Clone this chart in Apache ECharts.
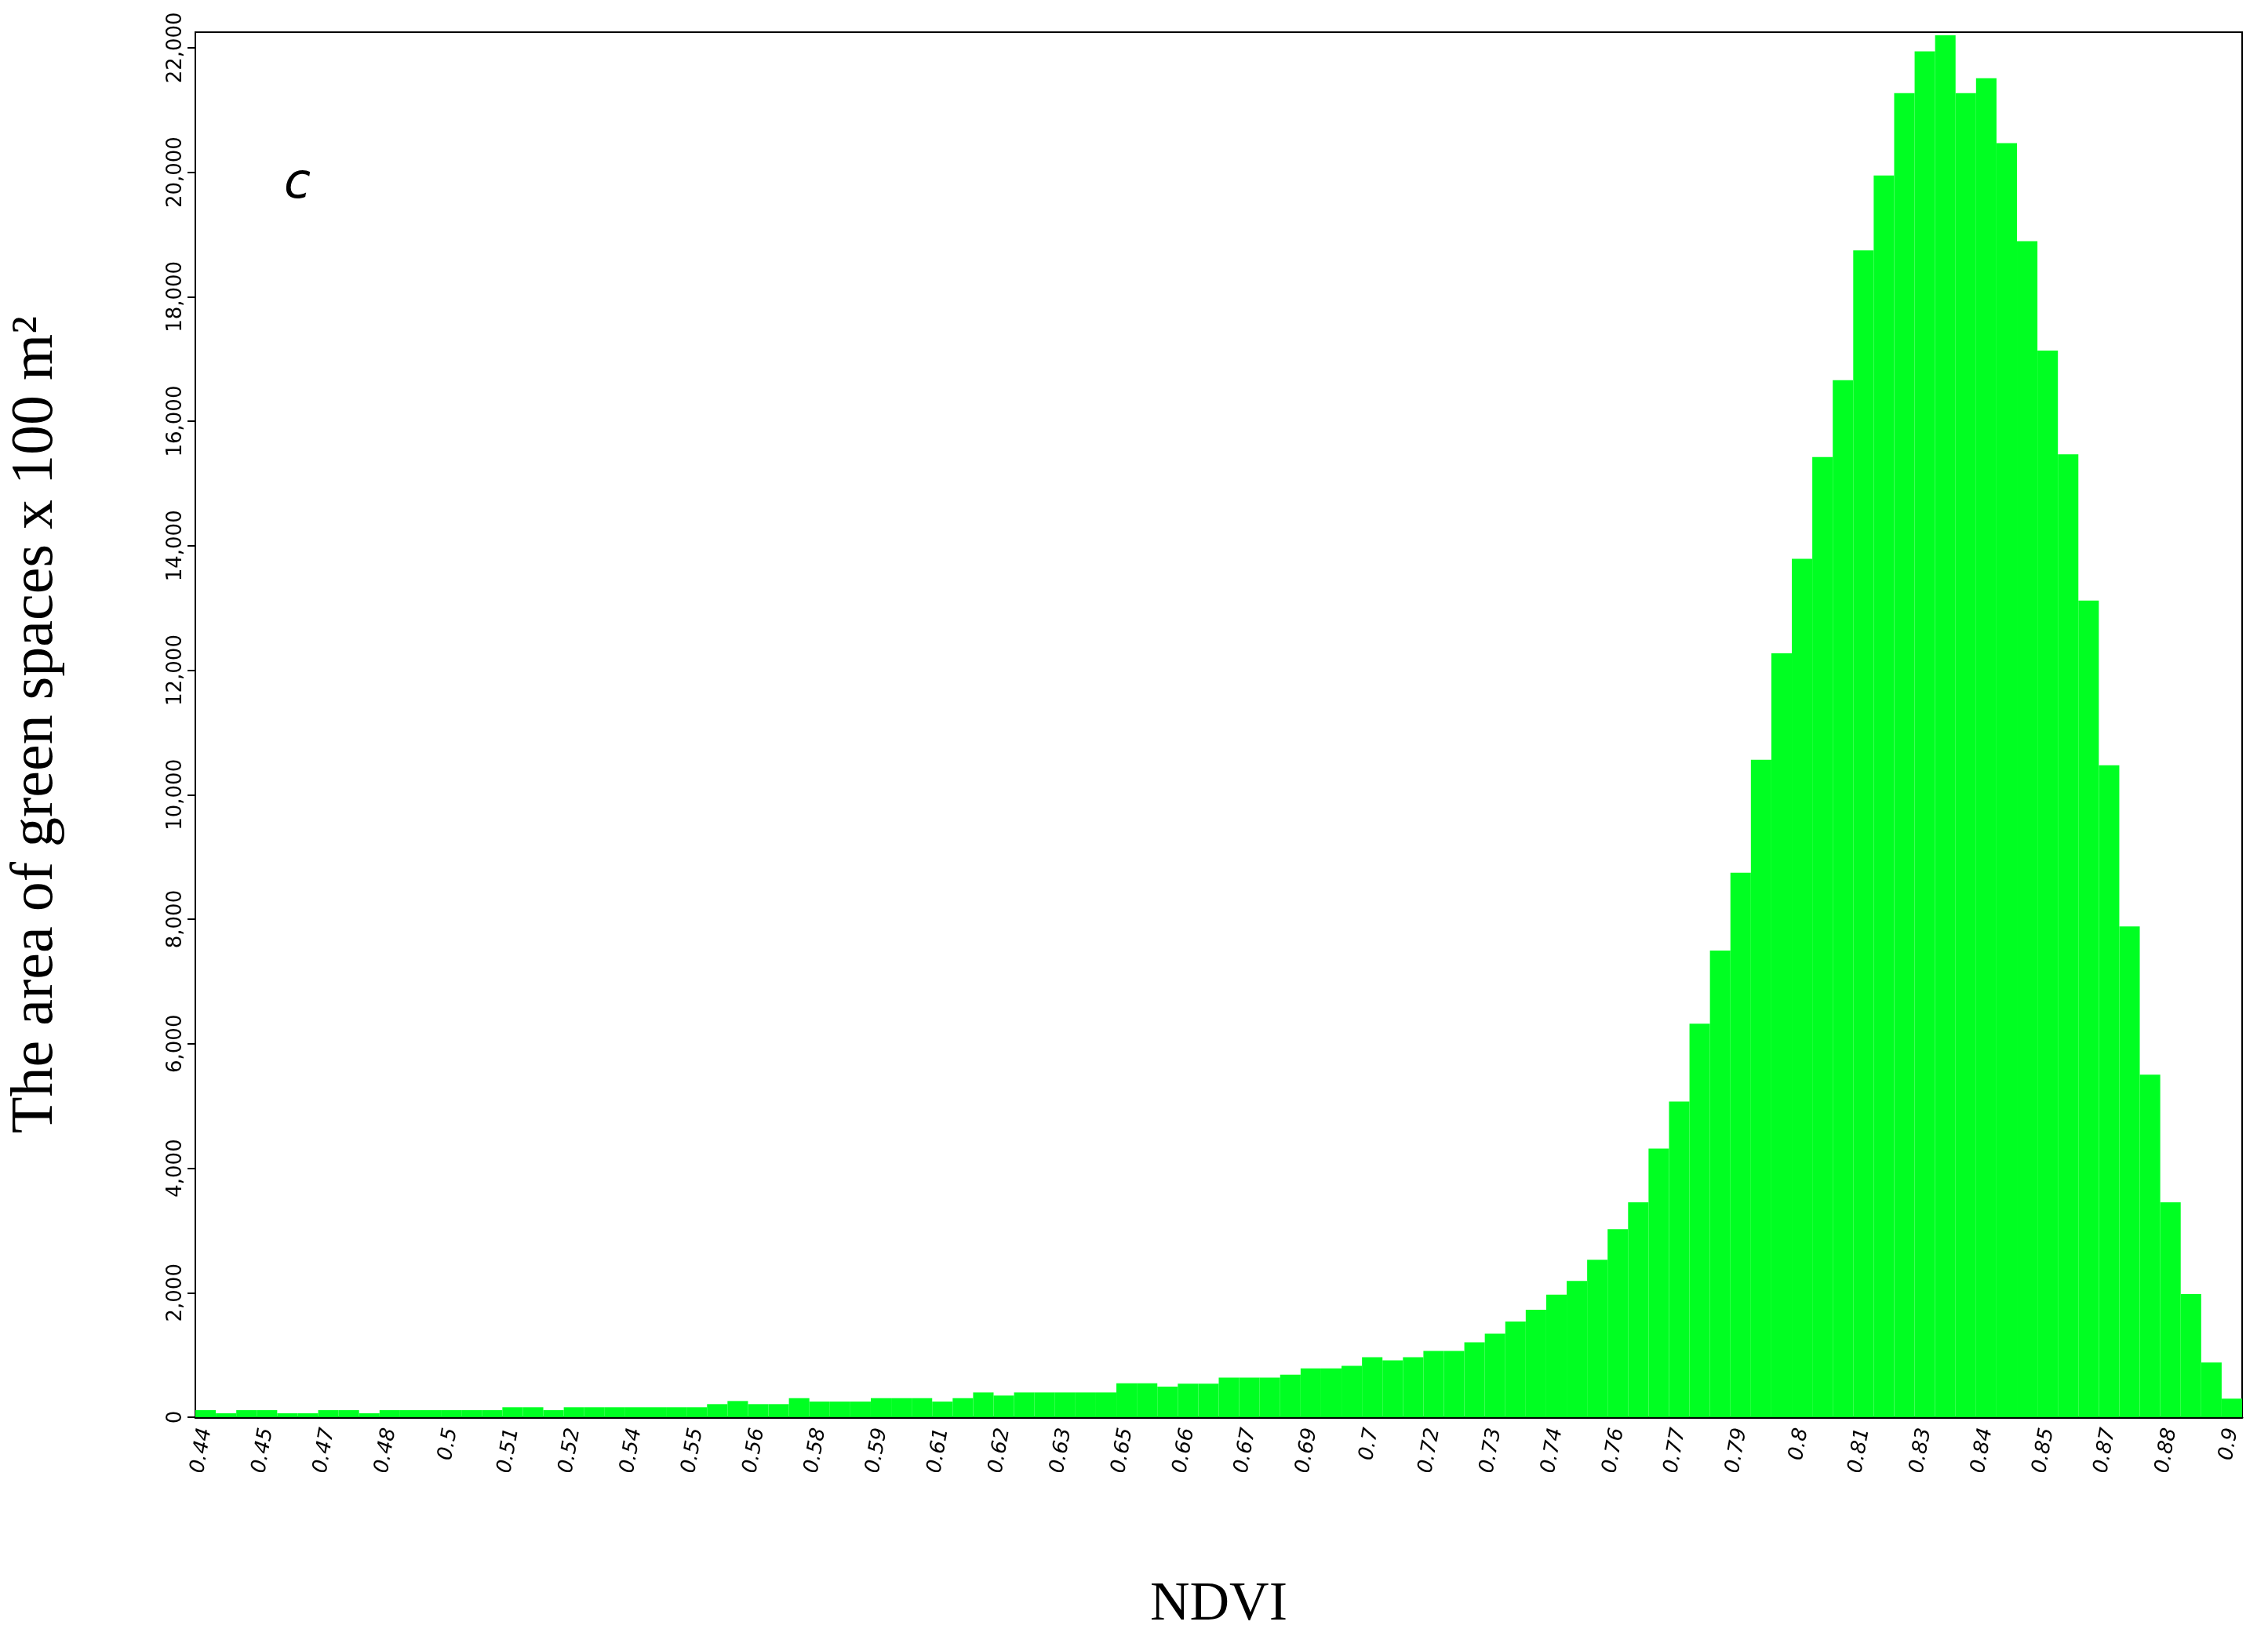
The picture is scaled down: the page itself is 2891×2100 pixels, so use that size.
<!DOCTYPE html>
<html>
<head>
<meta charset="utf-8">
<script src="https://cdn.jsdelivr.net/npm/echarts@6/dist/echarts.min.js"></script>
<style>html,body{margin:0;background:#fff;}#main{width:2891px;height:2100px;}</style>
</head>
<body>
<div id="main"></div>
<script>
var tickLabels = ['0.44','0.45','0.47','0.48','0.5','0.51','0.52','0.54','0.55','0.56','0.58','0.59',
  '0.61','0.62','0.63','0.65','0.66','0.67','0.69','0.7','0.72','0.73','0.74','0.76','0.77','0.79',
  '0.8','0.81','0.83','0.84','0.85','0.87','0.88','0.9'];
var areaLow = [113,63,113,113,63,63,113,113,63,113,113,113,113,113,113,160,160,113,160,160,
  160,160,160,160,160,210,260,210,210,306,251,251,251,306,306,306,251,306,398,348,
  398,398,398,398,398,545,545,490,540,540,637,637,637,683,784,784,825,964,913,964,
  1064,1064,1202,1341,1538,1726,1970];
var areaHigh = [2190,2529,3020,3451,4314,5072,6322,7497,8747,10561,12272,13789,15425,16660,
  18743,19947,21271,21941,22200,21271,21509,20468,18891,17136,15470,13120,10472,7884,5504,
  3451,1978,878,298];
var area = areaLow.concat(areaHigh);
var bins = area.map(function (v, i) { return String(i); });

var chart = echarts.init(document.getElementById('main'));
chart.setOption({
  animation: false,
  grid: { left: 243, right: 33, top: 41, bottom: 293, show: true, borderColor: '#000', borderWidth: 2 },
  xAxis: {
    type: 'category', data: bins,
    name: 'NDVI', nameLocation: 'middle', nameGap: 205,
    nameTextStyle: { fontFamily: 'Liberation Serif', fontSize: 70, color: '#000' },
    axisLine: { lineStyle: { color: '#000', width: 3 } },
    axisTick: { interval: 2, alignWithLabel: false, length: 12, lineStyle: { color: '#000', width: 2 } },
    axisLabel: {
      interval: 2, rotate: 80, fontSize: 26, fontStyle: 'italic', color: '#000', fontFamily: 'DejaVu Sans', margin: 14,
      formatter: function (v, i) { return tickLabels[i / 3] || ''; }
    }
  },
  yAxis: {
    type: 'value', min: 0, max: 22250, interval: 2000,
    name: 'The area of green spaces x 100 m²', nameLocation: 'middle', nameGap: 165,
    nameTextStyle: { fontFamily: 'Liberation Serif', fontSize: 76, color: '#000' },
    axisLine: { show: true, lineStyle: { color: '#000', width: 2 } },
    axisTick: { show: true, length: 10, lineStyle: { color: '#000', width: 2 } },
    splitLine: { show: false },
    axisLabel: {
      rotate: 90, fontSize: 26, color: '#000', fontFamily: 'DejaVu Sans', margin: 12,
      formatter: function (v) { return v.toLocaleString('en-US'); }
    }
  },
  graphic: [{ type: 'text', left: 362, top: 205,
    style: { text: 'c', font: 'italic 62px "DejaVu Sans"', fill: '#000' } }],
  series: [{
    type: 'bar', data: area, barCategoryGap: '0%',
    itemStyle: { color: '#00ff22' }
  }]
});
</script>
</body>
</html>
